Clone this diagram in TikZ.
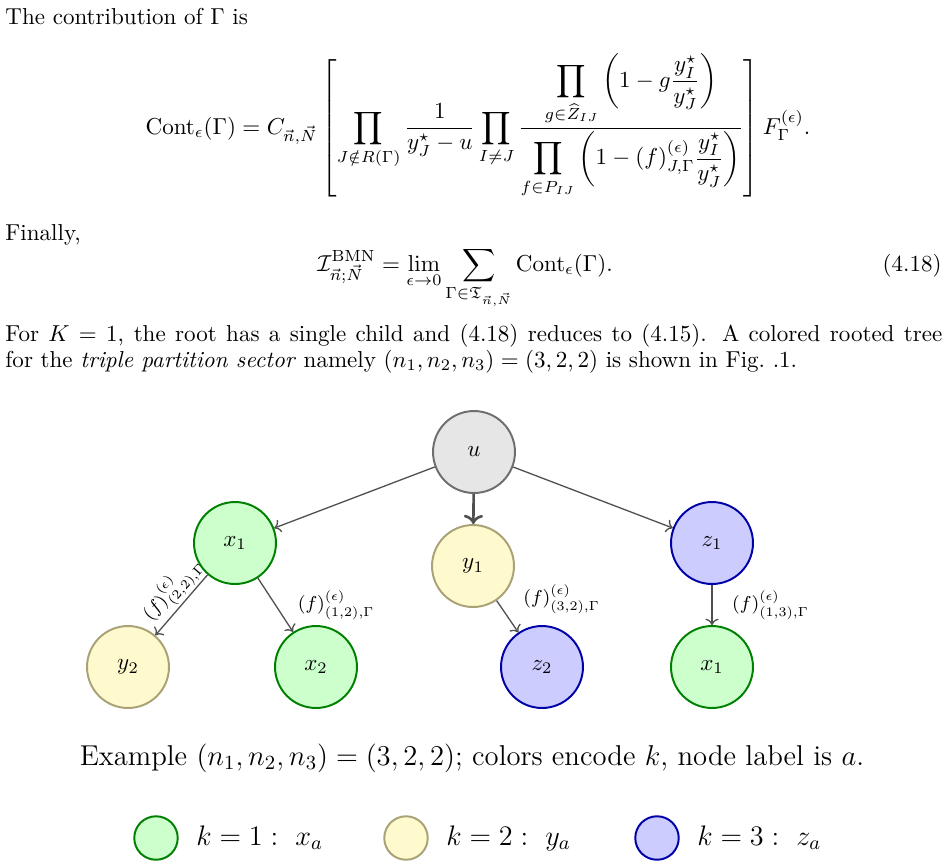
\RequirePackage{fix-cm}
\documentclass[tikz,border=0pt]{standalone}
\usepackage{amsmath,amssymb}
\usetikzlibrary{positioning, arrows.meta}
\definecolor{kgreenfill}{HTML}{CCFFCC}
\definecolor{kgreen}{HTML}{008000}
\definecolor{kyellowfill}{HTML}{FFFACD}
\definecolor{kyellow}{HTML}{A8A276}
\definecolor{kbluefill}{HTML}{CCCCFF}
\definecolor{kblue}{HTML}{0000A8}
\definecolor{kgrayfill}{HTML}{E6E6E6}
\definecolor{kgray}{HTML}{6E6E6E}
\definecolor{kedgecol}{HTML}{505050}
\tikzset{
  knode/.style={circle, minimum size=37.7pt, inner sep=0pt, line width=0.9pt},
  kone/.style={knode, draw=kgreen, fill=kgreenfill},
  ktwo/.style={knode, draw=kyellow, fill=kyellowfill},
  kthree/.style={knode, draw=kblue, fill=kbluefill},
  kroot/.style={knode, draw=kgray, fill=kgrayfill},
  kedge/.style={->, draw=kedgecol, line width=0.6pt},
  flabel/.style={font=\fontsize{8.6}{10}\selectfont, inner sep=1pt},
  legdot/.style={circle, minimum size=20pt, inner sep=0pt, line width=0.9pt},
  legtext/.style={inner sep=0pt, anchor=west, font=\fontsize{13}{16}\selectfont},
  txt/.style={inner sep=0pt}
}

\begin{document}
\begin{tikzpicture}[x=0.46pt, y=-0.46pt, font=\fontsize{10.6}{12.7}\selectfont]
    \useasboundingbox (0,0) rectangle (947,867);
    % text above the figure
    \node[txt, anchor=base west] (intro) at (5,24) {The contribution of $\Gamma$ is};
    \node[txt, anchor=base] (conteq) at (478,134)
          {$\displaystyle \mathrm{Cont}_\epsilon(\Gamma)=C_{\vec{n},\vec{N}}\left[\prod_{J\notin R(\Gamma)}\frac{1}{y^\star_J-u}\prod_{I\neq J}\frac{\displaystyle\prod_{g\in\widehat{Z}_{IJ}}\left(1-g\frac{y^\star_I}{y^\star_J}\right)}{\displaystyle\prod_{f\in P_{IJ}}\left(1-(f)^{(\epsilon)}_{J,\Gamma}\frac{y^\star_I}{y^\star_J}\right)}\right]F^{(\epsilon)}_\Gamma.$};
    \node[txt, anchor=base west] (finally) at (5,240) {Finally,};
    \node[txt, anchor=base] (bmneq) at (465,271)
          {$\displaystyle \mathcal{I}^{\mathrm{BMN}}_{\vec{n};\vec{N}}=\lim_{\epsilon\to0}\sum_{\Gamma\in\mathfrak{T}_{\vec{n},\vec{N}}}\mathrm{Cont}_\epsilon(\Gamma).$};
    \node[txt, anchor=base east] (eqnum) at (942,271) {(4.18)};
    \node[txt, anchor=base west] (paraone) at (5,341)
          {\hbox to 431pt{For $K=1$, the root has a single child and (4.18) reduces to (4.15). A colored rooted tree}};
    \node[txt, anchor=base west] (paratwo) at (5,367)
          {for the \textit{triple partition sector} namely $(n_1,n_2,n_3)=(3,2,2)$ is shown in Fig.~.1.};

    % tree
    \node[kroot] (u) at (474,452) {$u$};
    \node[kone] (x1l) at (235,543) {$x_1$};
    \node[ktwo] (y1) at (473,566) {$y_1$};
    \node[kthree] (z1) at (712,543) {$z_1$};
    \node[ktwo] (y2) at (128,667) {$y_2$};
    \node[kone] (x2) at (316,667) {$x_2$};
    \node[kthree] (z2) at (542,667) {$z_2$};
    \node[kone] (x1r) at (712,667) {$x_1$};

    \draw[kedge] (u) -- (x1l);
    \draw[kedge, line width=1.2pt] (u) -- (y1);
    \draw[kedge] (u) -- (z1);
    \draw[kedge] (x1l) -- (y2);
    \path (y2) -- node[flabel, pos=0.57, sloped, above] {$(f)^{(\epsilon)}_{(2,2),\Gamma}$} (x1l);
    \draw[kedge] (x1l) -- node[flabel, right=9pt] {$(f)^{(\epsilon)}_{(1,2),\Gamma}$} (x2);
    \draw[kedge] (y1) -- node[flabel, above right=0pt and 6pt] {$(f)^{(\epsilon)}_{(3,2),\Gamma}$} (z2);
    \draw[kedge] (z1) -- node[flabel, right=8pt] {$(f)^{(\epsilon)}_{(1,3),\Gamma}$} (x1r);

    % caption and legend
    \node[txt, anchor=base, font=\fontsize{13.2}{16}\selectfont] (caption) at (472,765)
          {Example $(n_1,n_2,n_3)=(3,2,2)$; colors encode $k$, node label is $a$.};
    \node[legdot, draw=kgreen, fill=kgreenfill] (legone) at (156,838) {};
    \node[legdot, draw=kyellow, fill=kyellowfill] (legtwo) at (406,838) {};
    \node[legdot, draw=kblue, fill=kbluefill] (legthree) at (657,838) {};
    \node[legtext] (legonetext) at (196,838) {$k=1:\ x_a$};
    \node[legtext] (legtwotext) at (446,838) {$k=2:\ y_a$};
    \node[legtext] (legthreetext) at (697,838) {$k=3:\ z_a$};
  \end{tikzpicture}
\end{document}
